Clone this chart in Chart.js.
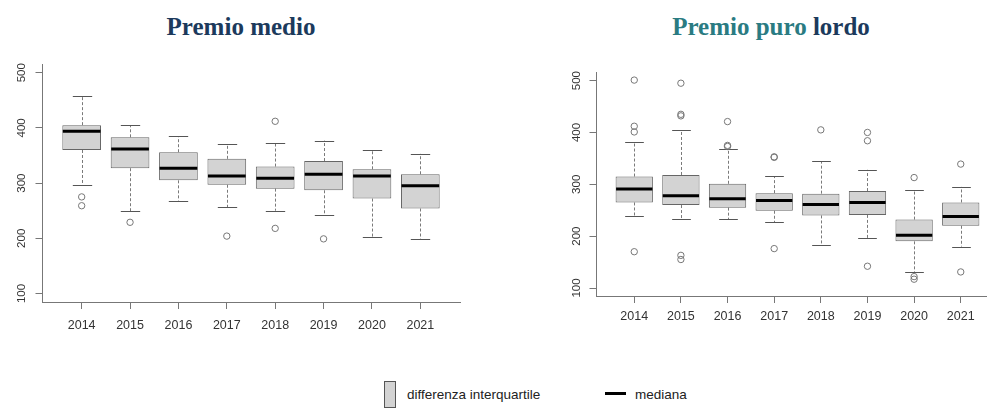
<!DOCTYPE html>
<html>
<head>
<meta charset="utf-8">
<script src="https://cdn.jsdelivr.net/npm/chart.js@4.4.1/dist/chart.umd.min.js"></script>
<style>
  html, body { margin:0; padding:0; background:#fff; }
  body { width:987px; height:410px; overflow:hidden; position:relative; font-family:"Liberation Sans", Arial, sans-serif; }
  .title { position:absolute; top:13px; font-family:"Liberation Serif","Times New Roman",serif; font-weight:bold; font-size:25px; color:#1c3a5c; white-space:nowrap; transform:translateX(-50%); }
  .teal { color:#2a7b82; }
  canvas { position:absolute; top:0; }
  .lg-box { position:absolute; left:384px; top:381px; width:12px; height:27px; background:#d3d3d3; border:1px solid #555; box-sizing:border-box; }
  .lg-text { position:absolute; font-size:13.5px; color:#222; white-space:nowrap; line-height:16px; }
  .lg-line { position:absolute; left:605px; top:392px; width:21px; height:3px; background:#000; }
</style>
</head>
<body>
<div class="title" style="left:241px;">Premio medio</div>
<div class="title" style="left:771px;"><span class="teal">Premio puro</span> lordo</div>

<canvas id="c1" width="490" height="340" style="left:0px;"></canvas>
<canvas id="c2" width="500" height="340" style="left:520px;"></canvas>

<div class="lg-box"></div>
<div class="lg-text" style="left:407px; top:387px;">differenza interquartile</div>
<div class="lg-line"></div>
<div class="lg-text" style="left:635px; top:387px;">mediana</div>

<script>
// ---- Data ----
const years = ['2014','2015','2016','2017','2018','2019','2020','2021'];
const yTicks = [100, 200, 300, 400, 500];

// Premio medio
const medioLow     = [296, 249, 268, 256, 250, 242, 203, 199];
const medioQ1      = [360, 327, 305, 297, 290, 287, 272, 254];
const medioMedian  = [394, 362, 327, 313, 309, 316, 313, 295];
const medioQ3      = [405, 383, 356, 344, 330, 340, 325, 316];
const medioHigh    = [457, 405, 385, 370, 373, 377, 360, 353];
const medioOutliers = [[275, 259], [229], [], [204], [412, 218], [199], [], []];

// Premio puro lordo
const puroLow     = [238, 233, 233, 227, 182, 196, 131, 180];
const puroQ1      = [265, 260, 255, 249, 240, 241, 190, 220];
const puroMedian  = [291, 278, 272, 269, 261, 265, 202, 238];
const puroQ3      = [315, 318, 301, 283, 282, 287, 232, 265];
const puroHigh    = [382, 404, 368, 316, 344, 328, 289, 295];
const puroOutliers = [[501, 412, 401, 170], [495, 435, 432, 163, 155], [421, 375, 373], [353, 352, 176], [405], [400, 384, 142], [313, 122, 117], [339, 131]];

// ---- Helpers ----
const AXIS_COLOR = '#777';
const TEXT_COLOR = '#333';

function boxplotPlugin(low, q1, med, q3, high, opts) {
  return {
    id: 'boxparts',
    beforeDatasetsDraw(chart) {
      const ctx = chart.ctx;
      const xs = chart.scales.x, ys = chart.scales.y;
      const meta = chart.getDatasetMeta(0);
      ctx.save();
      ctx.lineWidth = 1;
      years.forEach((y, i) => {
        const w = meta.data[i].width;
        const x = Math.round(xs.getPixelForValue(i + 1)) + 0.5;
        const pLow = ys.getPixelForValue(low[i]);
        const pHigh = ys.getPixelForValue(high[i]);
        const pQ1 = ys.getPixelForValue(q1[i]);
        const pQ3 = ys.getPixelForValue(q3[i]);
        ctx.strokeStyle = '#7a7a7a';
        ctx.setLineDash([3, 2]);
        ctx.beginPath();
        ctx.moveTo(x, pQ3); ctx.lineTo(x, pHigh);
        ctx.moveTo(x, pQ1); ctx.lineTo(x, pLow);
        ctx.stroke();
        ctx.setLineDash([]);
        ctx.strokeStyle = '#555';
        ctx.beginPath();
        ctx.moveTo(x - w / 4, Math.round(pHigh) + 0.5); ctx.lineTo(x + w / 4, Math.round(pHigh) + 0.5);
        ctx.moveTo(x - w / 4, Math.round(pLow) + 0.5); ctx.lineTo(x + w / 4, Math.round(pLow) + 0.5);
        ctx.stroke();
      });
      ctx.restore();
    },
    afterDatasetsDraw(chart) {
      const ctx = chart.ctx;
      const xs = chart.scales.x, ys = chart.scales.y;
      const meta = chart.getDatasetMeta(0);
      ctx.save();
      ctx.strokeStyle = '#000';
      ctx.lineWidth = 3;
      years.forEach((y, i) => {
        const w = meta.data[i].width;
        const x = xs.getPixelForValue(i + 1);
        const p = ys.getPixelForValue(med[i]);
        ctx.beginPath();
        ctx.moveTo(x - w / 2 + 0.5, p); ctx.lineTo(x + w / 2 - 0.5, p);
        ctx.stroke();
      });
      // tick labels
      ctx.fillStyle = TEXT_COLOR;
      ctx.font = '12.5px "Liberation Sans", Arial, sans-serif';
      ctx.textAlign = 'center';
      ctx.textBaseline = 'middle';
      years.forEach((y, i) => {
        ctx.fillText(y, xs.getPixelForValue(i + 1), chart.chartArea.bottom + opts.xLabelOffset);
      });
      ctx.font = '11.5px "Liberation Sans", Arial, sans-serif';
      yTicks.forEach(v => {
        const p = ys.getPixelForValue(v);
        ctx.save();
        ctx.translate(chart.chartArea.left - opts.yLabelOffset, p);
        ctx.rotate(-Math.PI / 2);
        ctx.fillText(String(v), 0, 0);
        ctx.restore();
      });
      ctx.restore();
    }
  };
}

function makeChart(id, low, q1, med, q3, high, outliers, L) {
  const boxData = years.map((y, i) => ({ x: i + 1, y: [q1[i], q3[i]] }));
  const outData = [];
  outliers.forEach((arr, i) => arr.forEach(v => outData.push({ x: i + 1, y: v })));
  return new Chart(document.getElementById(id), {
    type: 'bar',
    data: {
      datasets: [
        {
          type: 'bar',
          data: boxData,
          backgroundColor: '#d3d3d3',
          borderColor: '#666',
          borderWidth: 1,
          borderSkipped: false,
          categoryPercentage: 0.8,
          barPercentage: 1.0,
          order: 2
        },
        {
          type: 'line',
          data: outData,
          showLine: false,
          pointRadius: 3.2,
          pointHoverRadius: 3.2,
          pointBackgroundColor: 'rgba(0,0,0,0)',
          pointBorderColor: '#777',
          pointBorderWidth: 1,
          order: 1
        }
      ]
    },
    options: {
      responsive: false,
      animation: false,
      devicePixelRatio: 1,
      events: [],
      layout: { padding: { left: 0, top: L.top, right: L.right, bottom: 0 } },
      plugins: { legend: { display: false }, tooltip: { enabled: false } },
      scales: {
        x: {
          type: 'linear',
          offset: false,
          min: 0.18, max: 8.82,
          afterBuildTicks: s => { s.ticks = years.map((y, i) => ({ value: i + 1 })); },
          afterFit: s => { s.height = L.xHeight; },
          ticks: { display: false },
          grid: { display: true, offset: false, drawOnChartArea: false, drawTicks: true, tickLength: 7, color: AXIS_COLOR },
          border: { display: true, color: AXIS_COLOR, width: 1 }
        },
        y: {
          type: 'linear',
          min: L.ymin, max: L.ymax,
          afterBuildTicks: s => { s.ticks = yTicks.map(v => ({ value: v })); },
          afterFit: s => { s.width = L.yWidth; },
          ticks: { display: false },
          grid: { display: true, drawOnChartArea: false, drawTicks: true, tickLength: 6.5, color: AXIS_COLOR },
          border: { display: true, color: AXIS_COLOR, width: 1 }
        }
      }
    },
    plugins: [boxplotPlugin(low, q1, med, q3, high, L)]
  });
}

makeChart('c1', medioLow, medioQ1, medioMedian, medioQ3, medioHigh, medioOutliers,
  { top: 64, right: 30, xHeight: 38, yWidth: 42, ymin: 84.6, ymax: 515.8, xLabelOffset: 24, yLabelOffset: 20 });
makeChart('c2', puroLow, puroQ1, puroMedian, puroQ3, puroHigh, puroOutliers,
  { top: 72, right: 21, xHeight: 44, yWidth: 76, ymin: 84.6, ymax: 516.6, xLabelOffset: 21, yLabelOffset: 19.5 });
</script>
</body>
</html>
